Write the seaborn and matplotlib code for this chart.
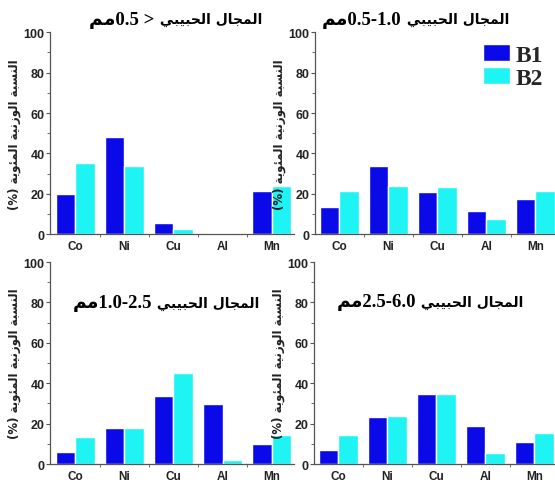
import pandas as pd
import matplotlib
matplotlib.use('Agg')
import matplotlib.pyplot as plt
import seaborn as sns
from matplotlib.ticker import MultipleLocator

# --- dados ---
elementos = ['Co', 'Ni', 'Cu', 'Al', 'Mn']
amostras = ['B1', 'B2']

b1_menor05 = [20.1, 48.1, 5.6, 0.6, 21.3]
b2_menor05 = [35.3, 33.8, 2.7, 0.0, 23.7]

b1_05_10 = [13.5, 33.9, 20.8, 11.4, 17.5]
b2_05_10 = [21.4, 23.7, 23.6, 7.4, 21.3]

b1_10_25 = [5.8, 17.9, 33.6, 29.8, 10.0]
b2_10_25 = [13.3, 17.8, 44.9, 2.1, 14.6]

b1_25_60 = [7.1, 23.2, 34.5, 18.9, 11.0]
b2_25_60 = [14.6, 23.8, 34.7, 5.4, 15.6]

faixas = ['0.5 >', '0.5-1.0', '1.0-2.5', '2.5-6.0']

cores = ['#0a0ae8', '#1ef4f4']


# --- texto arabe: formas de apresentacao, ordem visual ---
formas = {
    'ا': ('\ufe8d', '\ufe8e', None, None),
    'ل': ('\ufedd', '\ufede', '\ufedf', '\ufee0'),
    'م': ('\ufee1', '\ufee2', '\ufee3', '\ufee4'),
    'ج': ('\ufe9d', '\ufe9e', '\ufe9f', '\ufea0'),
    'ح': ('\ufea1', '\ufea2', '\ufea3', '\ufea4'),
    'ب': ('\ufe8f', '\ufe90', '\ufe91', '\ufe92'),
    'ي': ('\ufef1', '\ufef2', '\ufef3', '\ufef4'),
    'ن': ('\ufee5', '\ufee6', '\ufee7', '\ufee8'),
    'س': ('\ufeb1', '\ufeb2', '\ufeb3', '\ufeb4'),
    'ة': ('\ufe93', '\ufe94', None, None),
    'و': ('\ufeed', '\ufeee', None, None),
    'ز': ('\ufeaf', '\ufeb0', None, None),
    'ئ': ('\ufe89', '\ufe8a', '\ufe8b', '\ufe8c'),
}


def arabe(texto):
    saida = []
    for i, c in enumerate(texto):
        if c not in formas:
            saida.append(c)
            continue
        ant = texto[i - 1] if i > 0 else ''
        prox = texto[i + 1] if i + 1 < len(texto) else ''
        liga_ant = ant in formas and formas[ant][2] is not None
        liga_prox = formas[c][2] is not None and prox in formas
        iso, fin, ini, med = formas[c]
        if liga_ant and liga_prox:
            saida.append(med)
        elif liga_ant:
            saida.append(fin)
        elif liga_prox:
            saida.append(ini)
        else:
            saida.append(iso)
    return ''.join(saida)[::-1]


mm = arabe('مم')
campo = ' ' + arabe('المجال الحبيبي')
rotulo_y = '(%) ' + arabe('النسبة الوزنية المئوية')

dados = [(b1_menor05, b2_menor05), (b1_05_10, b2_05_10),
         (b1_10_25, b2_10_25), (b1_25_60, b2_25_60)]

# --- figura ---
sns.set_style('ticks')
plt.rcParams['font.family'] = ['Liberation Sans', 'DejaVu Sans']

fig = plt.figure(figsize=(5.55, 4.89), dpi=100)

posicoes = [
    [0.090, 0.519, 0.439, 0.413],
    [0.568, 0.519, 0.432, 0.413],
    [0.090, 0.049, 0.439, 0.413],
    [0.566, 0.049, 0.432, 0.413],
]
limites_x = [(-0.52, 4.45), (-0.49, 4.4), (-0.52, 4.45), (-0.49, 4.4)]
# ponto de divisao entre numero e texto arabe (x, y em fracao do eixo)
pos_titulo = [(0.43, 1.064), (0.36, 1.064), (0.42, 0.80), (0.425, 0.805)]

for k in range(4):
    ax = fig.add_axes(posicoes[k])
    b1, b2 = dados[k]
    df = pd.DataFrame({
        'elemento': elementos * 2,
        'valor': b1 + b2,
        'amostra': ['B1'] * 5 + ['B2'] * 5,
    })
    sns.barplot(data=df, x='elemento', y='valor', hue='amostra', palette=cores,
                saturation=1, width=0.8, ax=ax, legend=(k == 1))

    ax.set_ylim(0, 100)
    ax.set_xlim(*limites_x[k])
    ax.yaxis.set_major_locator(MultipleLocator(20))
    ax.yaxis.set_minor_locator(MultipleLocator(10))
    ax.set_xticks([i + 0.5 for i in range(4)], minor=True)
    ax.tick_params(axis='y', which='major', length=3, width=0.8, labelsize=9, pad=1)
    ax.tick_params(axis='y', which='minor', length=2, width=0.6)
    ax.tick_params(axis='x', which='major', length=0, labelsize=8.5, pad=4)
    ax.tick_params(axis='x', which='minor', length=2, width=0.6)
    ax.tick_params(colors='#555555', which='both')
    for lab in ax.get_xticklabels() + ax.get_yticklabels():
        lab.set_fontweight('bold')
        lab.set_color('#222222')
    sns.despine(ax=ax)
    for lado in ['left', 'bottom']:
        ax.spines[lado].set_color('#555555')
        ax.spines[lado].set_linewidth(0.9)

    ax.set_xlabel('')
    ax.set_ylabel(rotulo_y, fontsize=8.5, fontweight='bold', color='#222222',
                  family=['DejaVu Sans'], labelpad=2)

    tx, ty = pos_titulo[k]
    ax.text(tx, ty, mm + faixas[k], transform=ax.transAxes, ha='right', va='center',
            fontsize=13.5, fontweight='bold', color='black',
            family=['Liberation Serif', 'DejaVu Sans'])
    ax.text(tx, ty, campo, transform=ax.transAxes, ha='left', va='center',
            fontsize=10, fontweight='bold', color='black', family=['DejaVu Sans'])

    if k == 1:
        leg = ax.legend(loc='upper right', bbox_to_anchor=(0.99, 0.99), frameon=False,
                        prop={'family': 'Liberation Serif', 'weight': 'bold', 'size': 17},
                        handlelength=1.15, handleheight=0.75, handletextpad=0.25,
                        labelspacing=0.05, borderaxespad=0)

fig.savefig('out.png', dpi=100)
